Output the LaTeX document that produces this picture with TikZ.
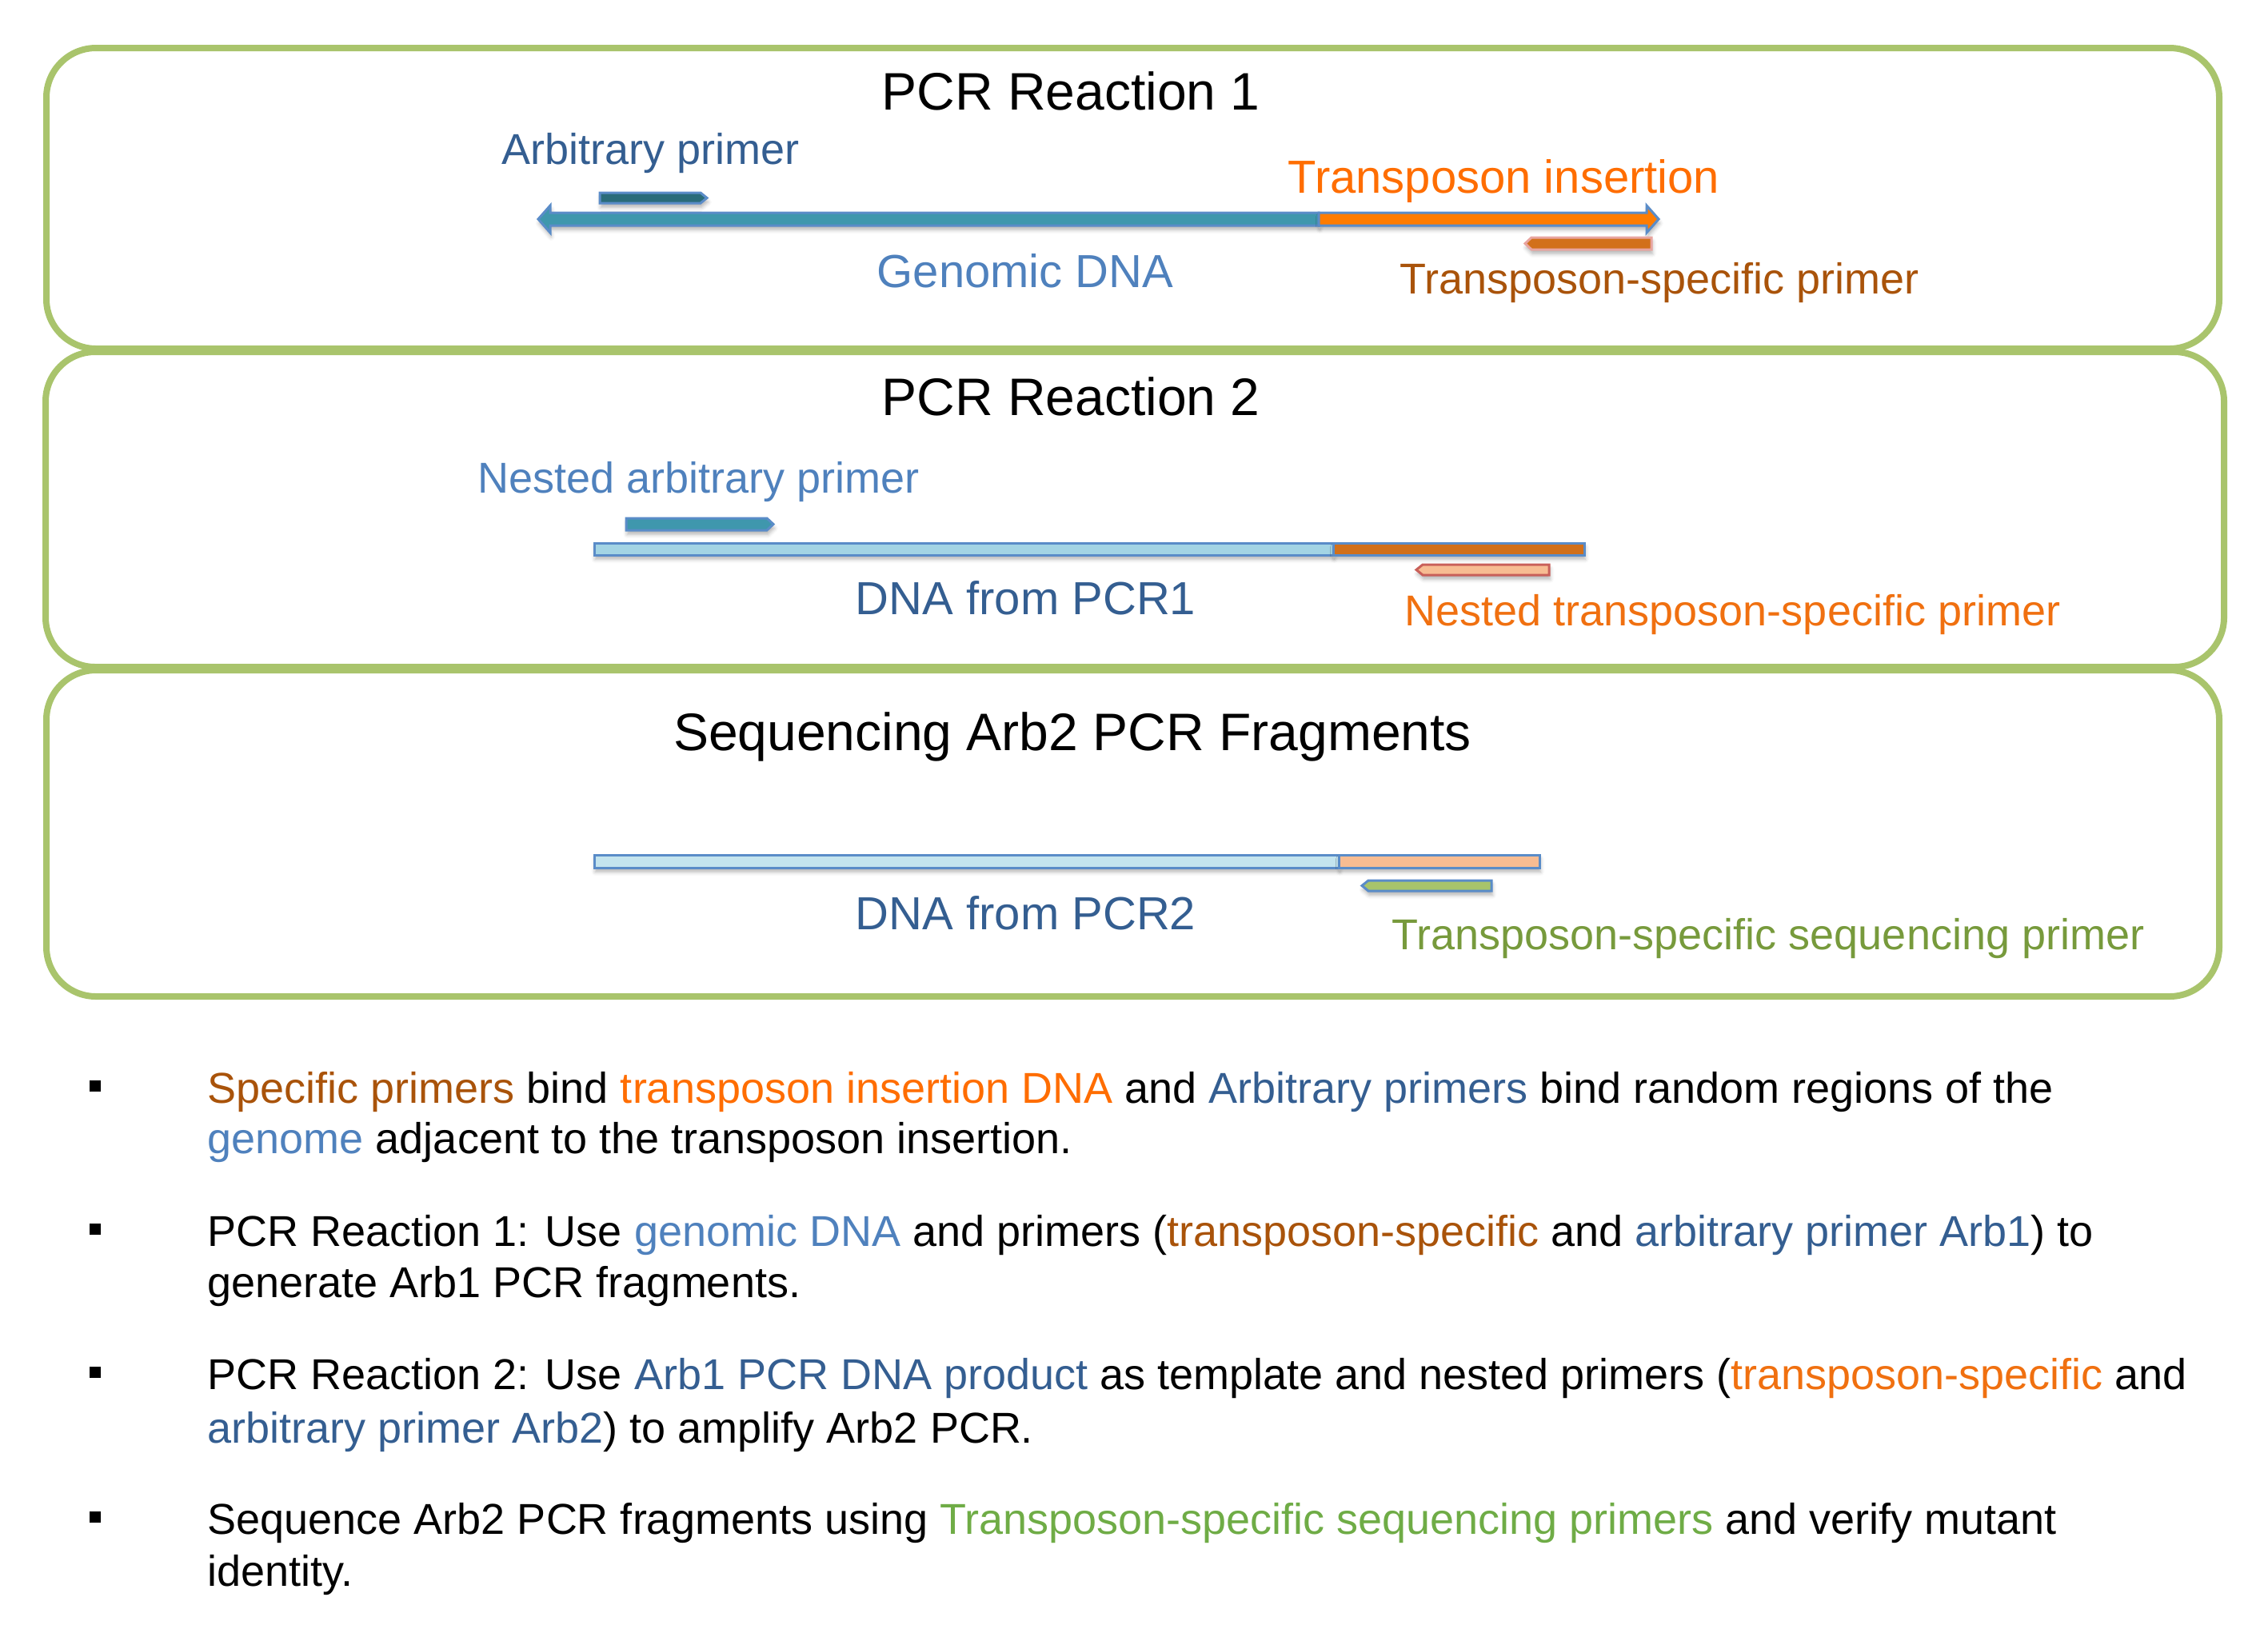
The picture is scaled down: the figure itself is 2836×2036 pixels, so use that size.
\documentclass[tikz,border=0pt]{standalone}
\usepackage{fontspec}
\setmainfont{Liberation Sans}
\usetikzlibrary{shadows.blur}
\definecolor{boxgreen}{HTML}{A9C46C}
\definecolor{outblue}{HTML}{5A8CC8}
\definecolor{teal}{HTML}{3F97AD}
\definecolor{darkteal}{HTML}{2A6C7A}
\definecolor{brightorange}{HTML}{FF7C00}
\definecolor{primerorange}{HTML}{D2701A}
\definecolor{pinkout}{HTML}{E8A5A0}
\definecolor{lightblue}{HTML}{A3D4E4}
\definecolor{paleblue}{HTML}{C4E4EE}
\definecolor{peach}{HTML}{F7BC92}
\definecolor{redout}{HTML}{C9605A}
\definecolor{primergreen}{HTML}{A7C46B}
\definecolor{cbrown}{HTML}{A9530A}
\definecolor{corange}{HTML}{FF6D00}
\definecolor{corange2}{HTML}{F07010}
\definecolor{cdblue}{HTML}{345E91}
\definecolor{cblue}{HTML}{4F81BD}
\definecolor{cgreen}{HTML}{779A3C}
\definecolor{cgreen2}{HTML}{6FAC46}
\begin{document}
\begin{tikzpicture}[x=0.25pt,y=-0.25pt,
  box/.style={draw=boxgreen, line width=2pt, rounded corners=15.5pt},
  bar/.style={draw=outblue, line width=0.75pt, line join=miter},
  shad/.style={blur shadow={shadow xshift=0.3pt, shadow yshift=-1.3pt, shadow blur radius=1.2pt, shadow opacity=30}},
  titletext/.style={font=\fontsize{16.5}{20}\selectfont, anchor=base, inner sep=0pt},
  lab/.style={font=\fontsize{13.5}{16}\selectfont, anchor=base west, inner sep=0pt},
  labL/.style={font=\fontsize{14.5}{17}\selectfont, anchor=base west, inner sep=0pt},
  txt/.style={font=\fontsize{13.5}{16}\selectfont, anchor=base west, inner sep=0pt},
  bullet/.style={fill=black}]
\useasboundingbox (0,0) rectangle (2836,2036);

% boxes
\draw[box] (58,60) rectangle (2775,436);
\draw[box] (57,440) rectangle (2781,834);
\draw[box] (58,838) rectangle (2775,1246);

% titles
\node[titletext] (t1) at (1339,137) {PCR Reaction 1};
\node[titletext] (t2) at (1339,519) {PCR Reaction 2};
\node[titletext] (t3) at (1341,938) {Sequencing Arb2 PCR Fragments};

% ---- Row 1 ----
\path[bar, fill=teal, shad] (673,274) -- (688,257) -- (688,266) -- (1649,266) -- (1649,282) -- (688,282) -- (688,291) -- cycle;
\path[bar, fill=brightorange, shad] (1649,266) -- (2059,266) -- (2059,257) -- (2074,274) -- (2059,291) -- (2059,282) -- (1649,282) -- cycle;
\path[bar, fill=darkteal, shad] (750,241) -- (876,241) -- (884,247.5) -- (876,254) -- (750,254) -- cycle;
\path[draw=pinkout, line width=0.75pt, fill=primerorange, shad] (1907,304.5) -- (1915,297) -- (2065,297) -- (2065,312) -- (1915,312) -- cycle;

\node[lab, text=cdblue] (arb) at (627,205) {Arbitrary primer};
\node[labL, text=corange] (tins) at (1610,241) {Transposon insertion};
\node[labL, text=cblue] (gdna) at (1096,359) {Genomic DNA};
\node[lab, text=cbrown] (tsp) at (1750,367) {Transposon-specific primer};

% ---- Row 2 ----
\path[bar, fill=teal, shad] (783,648) -- (959,648) -- (967,655.5) -- (959,663) -- (783,663) -- cycle;
\path[bar, fill=lightblue, shad] (743,679) rectangle (1667,694);
\path[bar, fill=primerorange, shad] (1667,679) rectangle (1981,694);
\path[draw=redout, line width=0.75pt, fill=peach, shad] (1771,712.5) -- (1779,706) -- (1937,706) -- (1937,719) -- (1779,719) -- cycle;

\node[lab, text=cblue] (narb) at (597,616) {Nested arbitrary primer};
\node[labL, text=cdblue] (pcr1) at (1069,768) {DNA from PCR1};
\node[lab, text=corange2] (ntsp) at (1756,782) {Nested transposon-specific primer};

% ---- Row 3 ----
\path[bar, fill=paleblue, shad] (743,1069) rectangle (1674,1085);
\path[bar, fill=peach, shad] (1674,1069) rectangle (1925,1085);
\path[bar, fill=primergreen, shad] (1703,1107.5) -- (1711,1101) -- (1865,1101) -- (1865,1114) -- (1711,1114) -- cycle;

\node[labL, text=cdblue] (pcr2) at (1069,1162) {DNA from PCR2};
\node[lab, text=cgreen] (tssp) at (1740,1187) {Transposon-specific sequencing primer};

% ---- bullets ----
\fill[bullet] (112,1351) rectangle (126,1365);
\fill[bullet] (112,1530) rectangle (126,1544);
\fill[bullet] (112,1709) rectangle (126,1723);
\fill[bullet] (112,1890) rectangle (126,1904);

\node[txt] (p1a) at (259,1379) {{\color{cbrown}Specific primers} bind {\color{corange}transposon insertion DNA} and {\color{cdblue}Arbitrary primers} bind random regions of the};
\node[txt] (p1b) at (259,1442) {{\color{cblue}genome} adjacent to the transposon insertion.};
\node[txt] (p2a) at (259,1558) {PCR Reaction 1: Use {\color{cblue}genomic DNA} and primers ({\color{cbrown}transposon-specific} and {\color{cdblue}arbitrary primer Arb1}) to};
\node[txt] (p2b) at (259,1622) {generate Arb1 PCR fragments.};
\node[txt] (p3a) at (259,1737) {PCR Reaction 2: Use {\color{cdblue}Arb1 PCR DNA product} as template and nested primers ({\color{corange2}transposon-specific} and};
\node[txt] (p3b) at (259,1804) {{\color{cdblue}arbitrary primer Arb2}) to amplify Arb2 PCR.};
\node[txt] (p4a) at (259,1918) {Sequence Arb2 PCR fragments using {\color{cgreen2}Transposon-specific sequencing primers} and verify mutant};
\node[txt] (p4b) at (259,1983) {identity.};
\end{tikzpicture}
\end{document}
